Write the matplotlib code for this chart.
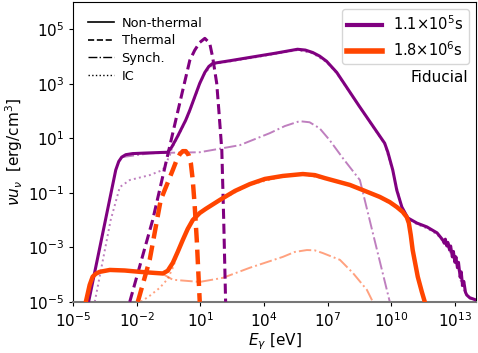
"""
SED snapshots (nu u_nu) at two epochs: non-thermal / thermal / synch. / IC.
"""

import numpy as np
import matplotlib
matplotlib.use("Agg")
import matplotlib.pyplot as plt
from matplotlib.lines import Line2D

# ── Data (log10 E [eV], log10 nu u_nu [erg/cm^3]) ─────────────────────────────
# epoch 1: t = 1.1e5 s
P_NT_LOGE = [-4.27, -2.99, -2.85, -2.71, -2.52, -2.20, -1.62, -0.54, -0.35, -0.07,
             0.31, 0.50, 0.97, 1.21, 1.40, 1.58, 2.40, 3.33, 4.50, 5.58, 5.95,
             6.30, 6.62, 6.95, 7.43, 8.50, 9.69, 9.84, 10.07, 10.26, 10.50,
             10.78, 11.21, 11.68, 12.16, 12.43, 12.50, 12.55, 12.62, 12.67, 12.75,
             12.80, 12.88, 12.93, 13.00, 13.05, 13.12, 13.17, 13.25, 13.30, 13.36,
             13.42, 13.50, 13.56, 13.70, 13.99]
P_NT_LOGY = [-5.00, -0.16, 0.15, 0.31, 0.40, 0.44, 0.46, 0.49, 0.68, 1.08,
             1.67, 2.03, 3.02, 3.42, 3.64, 3.75, 3.85, 3.97, 4.12, 4.27, 4.24,
             4.15, 4.02, 3.83, 3.42, 2.17, 0.82, 0.49, -0.16, -0.90, -1.52,
             -1.92, -2.11, -2.25, -2.47, -2.73, -2.85, -2.70, -2.95, -2.82, -3.10,
             -2.95, -3.35, -3.15, -3.55, -3.35, -3.75, -3.55, -4.10, -3.90, -4.40,
             -4.25, -4.65, -4.75, -4.85, -4.93]

P_TH_LOGE = [-2.33, -1.25, -0.16, 0.17, 0.50, 0.73, 0.97, 1.21, 1.44, 1.58, 1.77,
             1.87, 2.01, 2.10, 2.19]
P_TH_LOGY = [-5.00, -2.00, 1.67, 2.77, 3.86, 4.23, 4.52, 4.67, 4.49, 3.97, 3.02,
             2.03, 0.57, -2.00, -5.00]

P_SY_LOGE = [-2.71, -1.39, -0.54, 0.97, 2.86, 4.27, 4.98, 5.68, 6.15, 6.62, 7.10,
             7.72, 8.52, 9.13, 9.93]
P_SY_LOGY = [0.31, 0.45, 0.47, 0.49, 0.75, 1.19, 1.45, 1.63, 1.59, 1.37, 0.93,
             0.27, -0.53, -2.47, -5.00]

P_IC_LOGE = [-3.98, -3.23, -2.80, -2.33, -1.39, -0.77, -0.44, -0.35, -0.07, 0.31,
             0.50, 0.97, 1.21, 1.58, 3.33, 5.58, 6.30, 6.95, 7.43, 9.69, 10.07,
             10.50, 10.78, 11.21, 11.68, 12.16, 12.43, 12.67, 12.90, 13.14, 13.33,
             13.52, 13.71, 13.99]
P_IC_LOGY = [-5.00, -2.00, -0.79, -0.53, -0.35, -0.16, 0.38, 0.62, 1.05, 1.64,
             2.00, 2.99, 3.39, 3.72, 3.94, 4.24, 4.12, 3.80, 3.39, 0.79, -0.20,
             -1.55, -1.95, -2.15, -2.30, -2.52, -2.78, -2.95, -3.42, -3.70, -4.42,
             -4.72, -4.88, -4.98]

# epoch 2: t = 1.8e6 s
O_NT_LOGE = [-4.40, -4.22, -4.08, -3.93, -3.75, -3.27, -2.57, -1.86, -1.15, -0.77,
             -0.54, -0.30, -0.07, 0.17, 0.40, 0.64, 0.97, 1.25, 1.92, 2.63, 3.33,
             4.04, 4.89, 5.83, 6.40, 6.87, 8.05, 8.76, 9.46, 9.93, 10.26, 10.54,
             10.73, 10.83, 10.92, 11.01, 11.25, 11.44, 11.58]
O_NT_LOGY = [-5.00, -4.38, -4.08, -3.97, -3.90, -3.83, -3.85, -3.90, -3.94, -3.96,
             -3.86, -3.57, -3.17, -2.73, -2.33, -2.00, -1.74, -1.59, -1.26, -0.93, -0.68,
             -0.49, -0.38, -0.31, -0.35, -0.46, -0.71, -0.93, -1.15, -1.34, -1.52, -1.70,
             -1.89, -2.11, -2.55, -3.10, -4.08, -4.63, -5.00]

O_TH_LOGE = [-1.95, -1.39, -0.87, -0.30, -0.12, 0.03, 0.17, 0.31, 0.45, 0.55,
             0.64, 0.73, 0.83, 0.92, 0.97]
O_TH_LOGY = [-5.00, -3.46, -1.26, -0.16, 0.20, 0.42, 0.53, 0.53, 0.38, 0.09,
             -0.53, -1.45, -2.73, -4.19, -5.00]

O_SY_LOGE = [-3.75, -2.99, -1.86, -0.77, -0.30, 0.97, 2.06, 3.33, 4.89, 5.45,
             6.02, 6.39, 6.77, 7.58, 8.19, 8.85, 9.13]
O_SY_LOGY = [-3.90, -3.83, -3.90, -3.98, -4.19, -4.27, -4.12, -3.75, -3.35, -3.17,
             -3.10, -3.11, -3.21, -3.46, -3.94, -4.56, -5.00]

O_IC_LOGE = [-1.81, -1.39, -0.92, -0.54, -0.30, -0.07, 0.17, 0.40, 0.64, 0.97,
             1.25, 1.92, 3.33, 4.89, 5.83, 6.87, 8.05, 9.46, 10.26, 10.73, 10.92,
             11.25, 11.58]
O_IC_LOGY = [-5.00, -4.78, -4.49, -4.16, -3.75, -3.24, -2.77, -2.35, -2.02, -1.76,
             -1.61, -1.28, -0.70, -0.40, -0.33, -0.48, -0.73, -1.17, -1.54, -1.91,
             -2.57, -4.10, -5.00]

LABELS = [r"$1.1{\times}10^5$s", r"$1.8{\times}10^6$s"]

# ── Style ──────────────────────────────────────────────────────────────────────
PURPLE = "#800080"
ORANGE = "#FF4500"
DASH = (0, (3.3, 1.6))


def p10(a):
    return 10.0 ** np.asarray(a)


fig = plt.figure(figsize=(4.78, 3.53), dpi=100)
ax = fig.add_axes([0.153, 0.145, 0.843, 0.849])

for col, lw, nt, th, sy, ic in [
    (PURPLE, 2.2, (P_NT_LOGE, P_NT_LOGY), (P_TH_LOGE, P_TH_LOGY),
     (P_SY_LOGE, P_SY_LOGY), (P_IC_LOGE, P_IC_LOGY)),
    (ORANGE, 3.2, (O_NT_LOGE, O_NT_LOGY), (O_TH_LOGE, O_TH_LOGY),
     (O_SY_LOGE, O_SY_LOGY), (O_IC_LOGE, O_IC_LOGY)),
]:
    ax.plot(p10(sy[0]), p10(sy[1]), color=col, lw=1.4, ls="-.", alpha=0.5, zorder=2)
    ax.plot(p10(ic[0]), p10(ic[1]), color=col, lw=1.4, ls=":", alpha=0.5, zorder=2)
    ax.plot(p10(th[0]), p10(th[1]), color=col, lw=lw, ls=DASH, zorder=3)
    ax.plot(p10(nt[0]), p10(nt[1]), color=col, lw=lw, ls="-", zorder=4)

ax.set_xscale("log")
ax.set_yscale("log")
ax.set_xlim(1e-5, 1e14)
ax.set_ylim(1e-5, 1e6)
ax.set_xticks([10.0 ** k for k in range(-5, 14, 3)])
ax.set_yticks([10.0 ** k for k in range(-5, 6, 2)])
ax.minorticks_off()
ax.tick_params(labelsize=11, length=3)
ax.spines["bottom"].set_color("#777777")
ax.spines["bottom"].set_linewidth(1.5)

ax.set_xlabel(r"$E_\gamma$ [eV]", fontsize=11, labelpad=1)
ax.set_ylabel(r"$\nu u_\nu$  [erg/cm$^3$]", fontsize=11, labelpad=2)

# line-style legend (black keys)
style_handles = [
    Line2D([], [], color="k", lw=1.2, ls="-", label="Non-thermal"),
    Line2D([], [], color="k", lw=1.2, ls="--", label="Thermal"),
    Line2D([], [], color="k", lw=1.0, ls="-.", label="Synch."),
    Line2D([], [], color="k", lw=1.0, ls=":", label="IC"),
]
leg1 = ax.legend(handles=style_handles, loc="upper left", frameon=False,
                 fontsize=9.3, handlelength=2.0, labelspacing=0.35,
                 borderaxespad=0.75, handletextpad=0.6)
ax.add_artist(leg1)

time_handles = [
    Line2D([], [], color=PURPLE, lw=3.0, label=LABELS[0]),
    Line2D([], [], color=ORANGE, lw=4.0, label=LABELS[1]),
]
ax.legend(handles=time_handles, loc="upper right", fontsize=10.5,
          handlelength=2.4, borderaxespad=0.5, borderpad=0.35)

ax.text(0.98, 0.75, "Fiducial", transform=ax.transAxes, ha="right",
        va="center", fontsize=11)

fig.savefig("out.png", dpi=100)
